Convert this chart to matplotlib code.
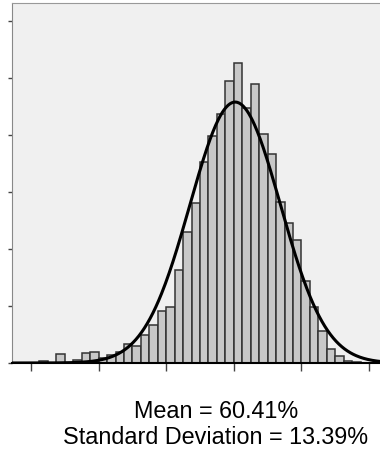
import numpy as np
import matplotlib.pyplot as plt

# Histogram of scores, 2.5% bins from 0 to 100
bin_width = 2.5
bin_starts = np.arange(0, 100, bin_width)
counts = [0, 2, 0, 8, 0, 3, 9, 10, 4, 7,
          10, 17, 15, 25, 33, 46, 49, 82, 115, 140,
          176, 199, 218, 247, 263, 224, 245, 201, 183, 141,
          123, 108, 72, 49, 28, 12, 6, 2, 1, 0]
mean = 60.41
std = 13.39
x_ticks = [0, 20, 40, 60, 80, 100]
y_ticks = [0, 50, 100, 150, 200, 250, 300]

fig = plt.figure(figsize=(3.8, 4.56), dpi=100)
ax = fig.add_axes([12 / 380, 92 / 456, 368 / 380, 360 / 456])
ax.set_facecolor('#f0f0f0')

ax.bar(bin_starts, counts, width=bin_width, align='edge',
       color='#c8c8c8', edgecolor='#333333', linewidth=1.1, zorder=2)

# Fitted normal curve scaled to the counts
n_total = sum(counts)
xs = np.linspace(-6, 106, 400)
pdf = np.exp(-0.5 * ((xs - mean) / std) ** 2) / (std * np.sqrt(2 * np.pi))
ax.plot(xs, pdf * n_total * bin_width, color='black', linewidth=2.2, zorder=3)

ax.set_xlim(-5.62, 103.25)
ax.set_ylim(0, 315.8)
ax.set_xticks(x_ticks)
ax.set_yticks(y_ticks)
ax.set_xticklabels([])
ax.set_yticklabels([])
ax.tick_params(axis='x', direction='out', length=6, width=1, color='#444444')
ax.tick_params(axis='y', direction='out', length=3, width=1, color='#444444')

ax.spines['right'].set_visible(False)
ax.spines['top'].set_color('#999999')
ax.spines['left'].set_color('#888888')
ax.spines['bottom'].set_color('black')
ax.spines['bottom'].set_linewidth(1.5)

fig.text(216 / 380, 1 - 412 / 456, 'Mean = %.2f%%' % mean, ha='center', va='center',
         fontsize=16.8, family='Liberation Sans')
fig.text(216 / 380, 1 - 438 / 456, 'Standard Deviation = %.2f%%' % std, ha='center',
         va='center', fontsize=16.8, family='Liberation Sans')

fig.savefig('out.png', dpi=100)
plt.close(fig)
